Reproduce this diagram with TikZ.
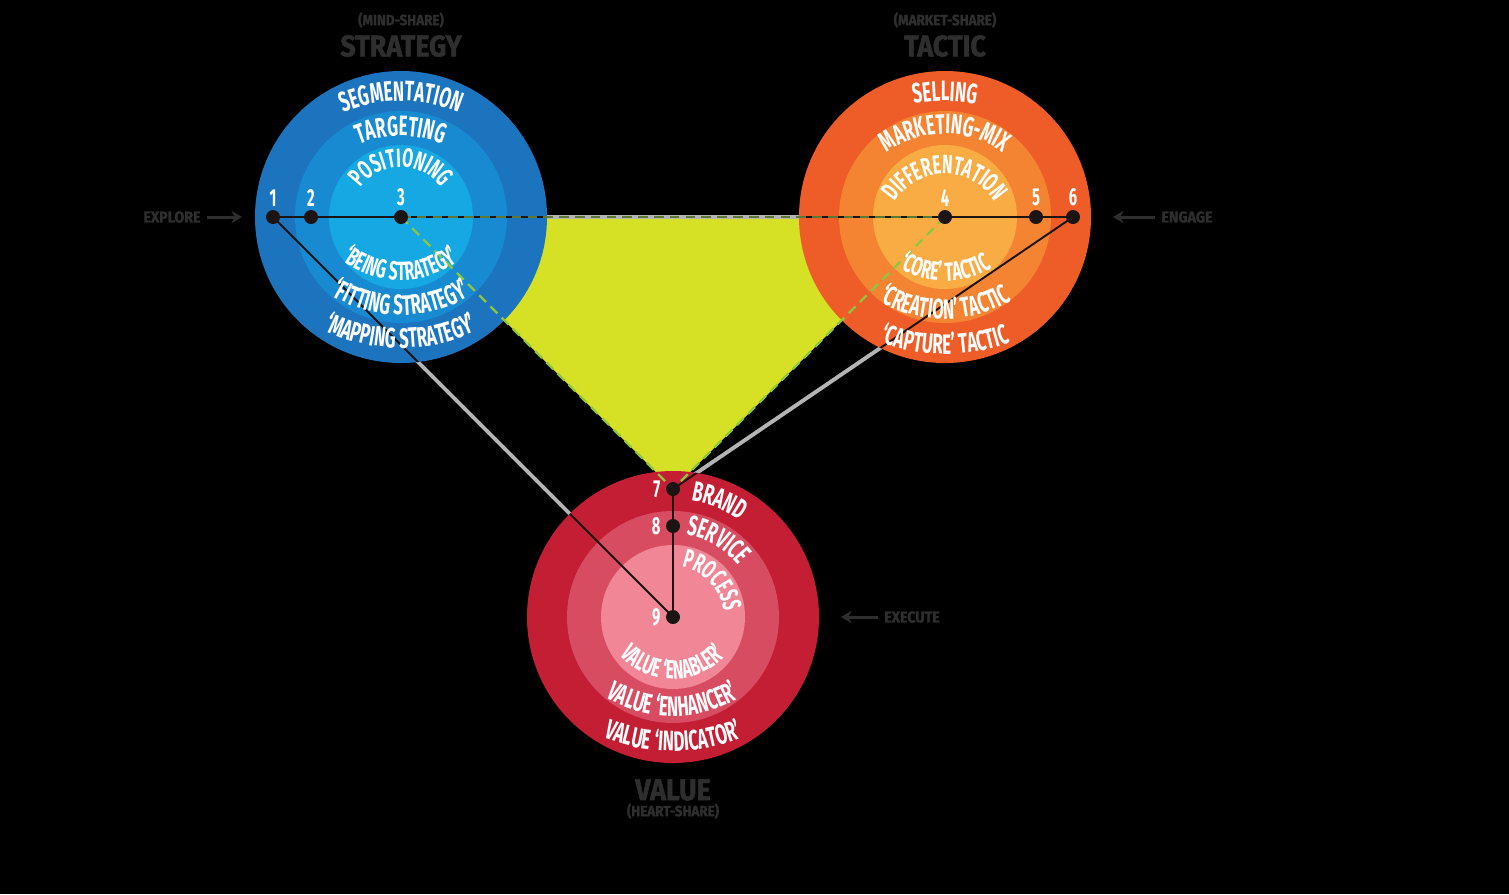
\documentclass[tikz,border=0pt]{standalone}
\usepackage{fontspec}
\usepackage{tikz}
\usetikzlibrary{decorations.text, arrows.meta}
\newfontfamily\ringfont[FakeStretch=0.6]{Fira Sans}
\newfontfamily\headfont[FakeBold=1.5, FakeStretch=0.9]{Fira Sans}
\definecolor{bluea}{RGB}{28, 116, 190}
\definecolor{blueb}{RGB}{24, 138, 210}
\definecolor{bluec}{RGB}{22, 168, 226}
\definecolor{orangea}{RGB}{238, 92, 40}
\definecolor{orangeb}{RGB}{244, 132, 50}
\definecolor{orangec}{RGB}{249, 172, 68}
\definecolor{reda}{RGB}{196, 30, 52}
\definecolor{redb}{RGB}{216, 76, 98}
\definecolor{redc}{RGB}{240, 134, 150}
\definecolor{lime}{RGB}{214, 224, 36}
\definecolor{leaf}{RGB}{140, 198, 63}
\definecolor{leafdark}{RGB}{92, 120, 52}
\definecolor{wireg}{RGB}{180, 180, 180}
\definecolor{ink}{RGB}{46, 46, 46}
\definecolor{dotc}{RGB}{28, 20, 18}

\begin{document}
\begin{tikzpicture}[x=0.02cm, y=0.02cm,
  wire/.style={wireg, line width=2.2pt},
  inside/.style={dotc, line width=1.1pt},
  trail/.style={leaf, line width=1.3pt, dash pattern=on 5.5pt off 3.5pt},
  num/.style={text=white, inner sep=0pt, font=\ringfont\bfseries\fontsize{14}{14}\selectfont},
  head/.style={text=ink, font=\headfont\bfseries\fontsize{17}{17}\selectfont},
  sub/.style={text=ink, font=\headfont\bfseries\fontsize{8.5}{8.5}\selectfont},
  side/.style={text=ink, font=\headfont\bfseries\fontsize{9}{9}\selectfont},
  push/.style={ink, line width=1.7pt, -{Stealth[length=6pt, width=7pt]}},
  arctext/.style 2 args={decorate, decoration={text along path, text align=center,
    text={|\ringfont\bfseries\fontsize{#1}{#1}\selectfont\color{white}|#2}}},
  arcleft/.style 2 args={decorate, decoration={text along path, text align=left,
    text={|\ringfont\bfseries\fontsize{#1}{#1}\selectfont\color{white}|#2}}}]

  \useasboundingbox (0, 0) rectangle (1509, -894);
  \fill[black] (0, 0) rectangle (1509, -894);

  \foreach \n/\x/\y in {1/273/217, 2/311/217, 3/401/217, 4/945/217, 5/1036/217,
                        6/1073/217, 7/673/489, 8/673/526, 9/673/617} {
    \coordinate (p\n) at (\x, -\y);
  }

  % field between the three circles
  \fill[lime] (p3) -- (p4) -- (p7) -- cycle;

  \draw[wire] (p1) -- (p6);
  \draw[wire] (p1) -- (p9);
  \draw[wire] (p6) -- (p7);

  \foreach \p/\ca/\cb/\cc in {p3/bluea/blueb/bluec, p4/orangea/orangeb/orangec,
                              p9/reda/redb/redc} {
    \fill[\ca] (\p) circle (146);
    \fill[\cb] (\p) circle (106);
    \fill[\cc] (\p) circle (72);
  }

  \begin{scope}
    \clip (p3) circle (146) (p4) circle (146) (p9) circle (146);
    \draw[inside] (p1) -- (p6);
    \draw[inside] (p1) -- (p9);
    \draw[inside] (p6) -- (p7);
    \draw[inside] (p7) -- (p9);
  \end{scope}

  \draw[trail, leafdark] (p3) -- (p4);
  \draw[trail] (p3) -- (p7);
  \draw[trail] (p4) -- (p7);

  \foreach \n in {1,...,9} {
    \fill[dotc] (p\n) circle (7);
  }
  \foreach \n in {1,...,6} {
    \node[num, above=6pt] (n\n) at (p\n) {\n};
  }
  \foreach \n in {7,8,9} {
    \node[num, left=7pt] (n\n) at (p\n) {\n};
  }

  % strategy
  \path[arctext={16}{SEGMENTATION}] (401, -252) ++(250:151) arc[start angle=250, end angle=-70, radius=151];
  \path[arctext={16}{TARGETING}] (401, -247) ++(250:111) arc[start angle=250, end angle=-70, radius=111];
  \path[arctext={15}{POSITIONING}] (401, -216) ++(250:49) arc[start angle=250, end angle=-70, radius=49];
  \path[arctext={15}{‘BEING STRATEGY’}] (401, -183) ++(110:97) arc[start angle=110, end angle=430, radius=97];
  \path[arctext={16}{‘FITTING STRATEGY’}] (401, -181) ++(110:134) arc[start angle=110, end angle=430, radius=134];
  \path[arctext={16}{‘MAPPING STRATEGY’}] (401, -169) ++(110:179) arc[start angle=110, end angle=430, radius=179];

  % tactic
  \path[arctext={16}{SELLING}] (945, -262) ++(250:161) arc[start angle=250, end angle=-70, radius=161];
  \path[arctext={16}{MARKETING-MIX}] (945, -234) ++(250:100) arc[start angle=250, end angle=-70, radius=100];
  \path[arctext={15}{DIFFERENTATION}] (945, -233) ++(250:59) arc[start angle=250, end angle=-70, radius=59];
  \path[arctext={15}{‘CORE’ TACTIC}] (945, -190) ++(110:91) arc[start angle=110, end angle=430, radius=91];
  \path[arctext={16}{‘CREATION’ TACTIC}] (945, -189) ++(110:130) arc[start angle=110, end angle=430, radius=130];
  \path[arctext={16}{‘CAPTURE’ TACTIC}] (945, -160) ++(110:194) arc[start angle=110, end angle=430, radius=194];

  % value
  \path[arcleft={16}{BRAND}] (p9) ++(81:118) arc[start angle=81, end angle=-60, radius=118];
  \path[arcleft={16}{SERVICE}] (p9) ++(81:83) arc[start angle=81, end angle=-60, radius=83];
  \path[arcleft={15}{PROCESS}] (p9) ++(80:51) arc[start angle=80, end angle=-60, radius=51];
  \path[arctext={15}{VALUE ‘ENABLER’}] (673, -606) ++(110:73) arc[start angle=110, end angle=430, radius=73];
  \path[arctext={16}{VALUE ‘ENHANCER’}] (673, -586) ++(110:130) arc[start angle=110, end angle=430, radius=130];
  \path[arctext={16}{VALUE ‘INDICATOR’}] (673, -563) ++(110:188) arc[start angle=110, end angle=430, radius=188];

  \node[sub] (mind) at (401, -20) {(MIND-SHARE)};
  \node[head] (strategy) at (401, -46) {STRATEGY};
  \node[sub] (market) at (945, -20) {(MARKET-SHARE)};
  \node[head] (tactic) at (945, -46) {TACTIC};
  \node[head] (value) at (673, -790) {VALUE};
  \node[sub] (heart) at (673, -811) {(HEART-SHARE)};

  \node[side] (explore) at (172, -217) {EXPLORE};
  \coordinate (inS) at (242, -217);
  \draw[push] (explore) -- (inS);
  \node[side] (engage) at (1187, -217) {ENGAGE};
  \coordinate (inT) at (1113, -217);
  \draw[push] (engage) -- (inT);
  \node[side] (execute) at (912, -617) {EXECUTE};
  \coordinate (inV) at (841, -617);
  \draw[push] (execute) -- (inV);

\end{tikzpicture}
\end{document}
